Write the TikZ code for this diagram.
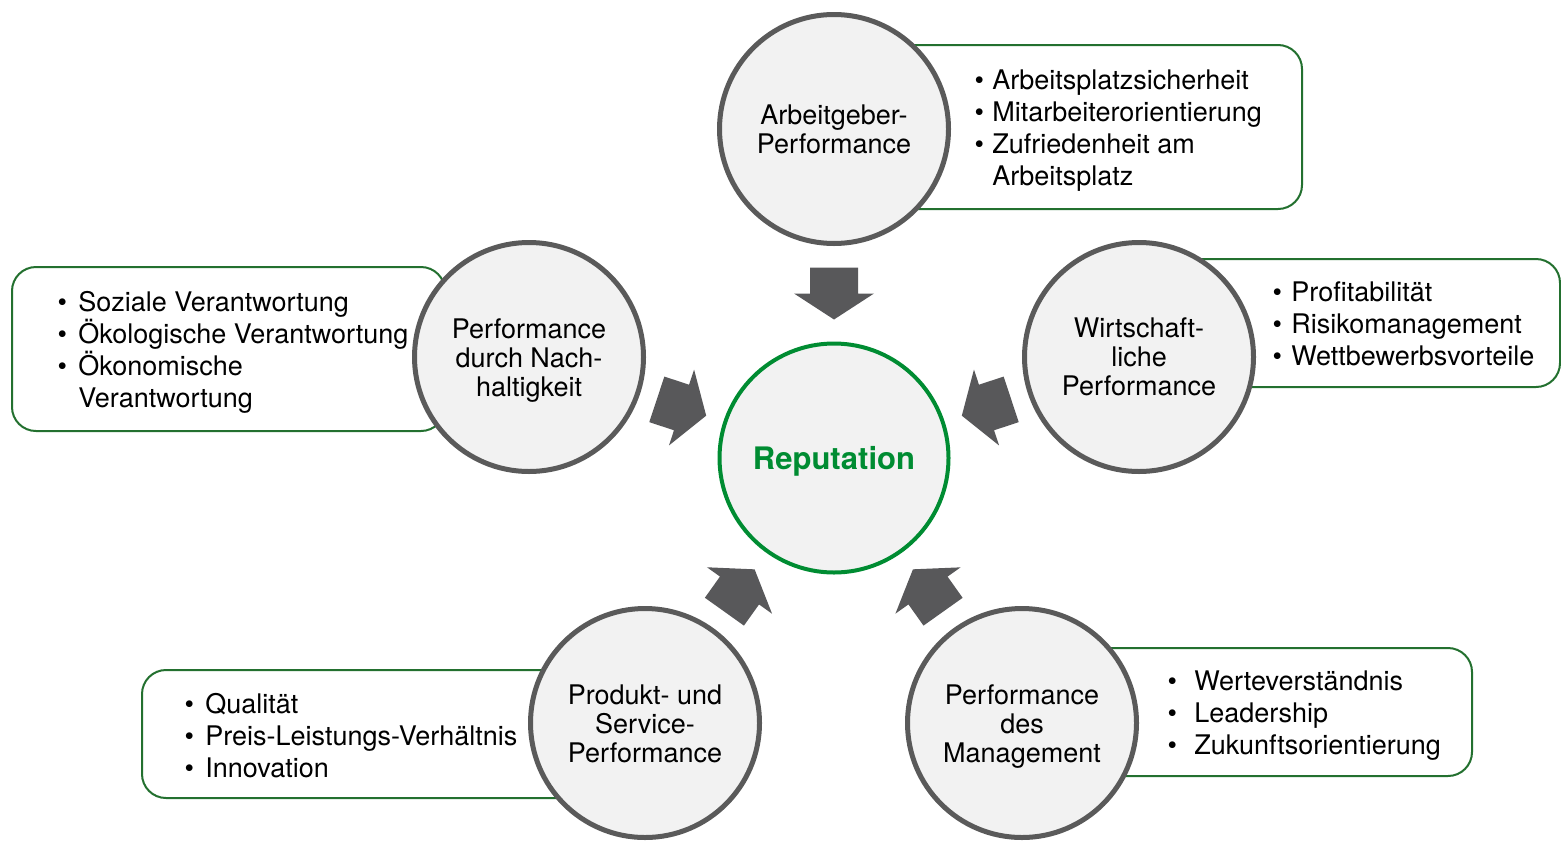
\documentclass[tikz,border=0pt]{standalone}
\usepackage{fontspec}
\setmainfont{TeX Gyre Heros}
\usetikzlibrary{calc}

\definecolor{ringgray}{HTML}{5A5A5A}
\definecolor{arrowgray}{HTML}{58585A}
\definecolor{discfill}{HTML}{F2F2F2}
\definecolor{repgreen}{HTML}{008C32}
\definecolor{boxgreen}{HTML}{23702F}

% bullet list: first column holds the bullet, second the entry
\newcommand\bulletlist[2]{%
  \fontsize{13.5pt}{16pt}\selectfont
  \begin{tabular}[t]{@{}p{#1}@{}l@{}}#2\end{tabular}}

\tikzset{
  disc/.style={circle, draw=ringgray, line width=2.5pt, fill=discfill,
    minimum size=114.5pt, inner sep=0pt},
  repdisc/.style={disc, draw=repgreen, line width=2pt},
  disclabel/.style={align=center, inner sep=0pt,
    font=\fontsize{13.5pt}{14.5pt}\selectfont},
  replabel/.style={inner sep=0pt, text=repgreen,
    font=\fontsize{15.5pt}{17pt}\selectfont\bfseries},
  listbox/.style={draw=boxgreen, line width=1pt, rounded corners=12pt, fill=white},
  listtext/.style={anchor=base west, inner sep=0pt},
  blockarrow/.pic={
    \fill[arrowgray] (-26,24) -- (0,24) -- (0,40) -- (26,0)
      -- (0,-40) -- (0,-24) -- (-26,-24) -- cycle;}
}

\begin{document}
\begin{tikzpicture}[x=0.5pt, y=0.5pt]
\useasboundingbox (0,0) rectangle (1561,-841);

% frames behind the discs
\draw[listbox] (834,-45) rectangle (1302,-209);
\draw[listbox] (1139,-259) rectangle (1560,-387);
\draw[listbox] (12,-267) rectangle (445,-431);
\draw[listbox] (142,-670) rectangle (645,-798);
\draw[listbox] (1022,-648) rectangle (1472,-776);

% discs
\node[repdisc] (rep) at (834,-458) {};
\node[disc] (emp) at (834,-129) {};
\node[disc] (sus) at (529,-357) {};
\node[disc] (eco) at (1139,-357) {};
\node[disc] (prd) at (645,-723) {};
\node[disc] (mgt) at (1022,-723) {};

% disc captions
\node[replabel]  (repT) at ($(rep)+(0,-3)$) {Reputation};
\node[disclabel] (empT) at (emp) {Arbeitgeber-\\Performance};
\node[disclabel] (susT) at ($(sus)+(0,-4)$) {Performance\\durch Nach-\\haltigkeit};
\node[disclabel] (ecoT) at (eco) {Wirtschaft-\\liche\\Performance};
\node[disclabel] (prdT) at ($(prd)+(0,-1)$) {Produkt- und\\Service-\\Performance};
\node[disclabel] (mgtT) at ($(mgt)+(0,-4)$) {Performance\\des\\Management};

% bullet lists
\node[listtext] (empl) at (974.3,-89) {\bulletlist{8.85pt}{%
  \textbullet & Arbeitsplatzsicherheit\\
  \textbullet & Mitarbeiterorientierung\\
  \textbullet & Zufriedenheit am\\
              & Arbeitsplatz}};
\node[listtext] (ecol) at (1272.3,-301) {\bulletlist{9.35pt}{%
  \textbullet & Profitabilität\\
  \textbullet & Risikomanagement\\
  \textbullet & Wettbewerbsvorteile}};
\node[listtext] (susl) at (57.3,-311) {\bulletlist{10.35pt}{%
  \textbullet & Soziale Verantwortung\\
  \textbullet & \smash{Ökologische Verantwortung}\\
  \textbullet & \smash{Ökonomische}\\
              & Verantwortung}};
\node[listtext] (prdl) at (184.3,-713) {\bulletlist{10.35pt}{%
  \textbullet & Qualität\\
  \textbullet & Preis-Leistungs-Verhältnis\\
  \textbullet & Innovation}};
\node[listtext] (mgtl) at (1167.3,-690) {\bulletlist{13.35pt}{%
  \textbullet & Werteverständnis\\
  \textbullet & Leadership\\
  \textbullet & Zukunftsorientierung}};

% block arrows pointing at the centre
\pic[rotate=-90]    at ($(emp)!0.5!(rep)$) {blockarrow};
\pic[rotate=-18.3]  at ($(sus)!0.5!(rep)$) {blockarrow};
\pic[rotate=198.3]  at ($(eco)!0.5!(rep)$) {blockarrow};
\pic[rotate=54.5]   at ($(prd)!0.5!(rep)$) {blockarrow};
\pic[rotate=125.4]  at ($(mgt)!0.5!(rep)$) {blockarrow};
\end{tikzpicture}
\end{document}
